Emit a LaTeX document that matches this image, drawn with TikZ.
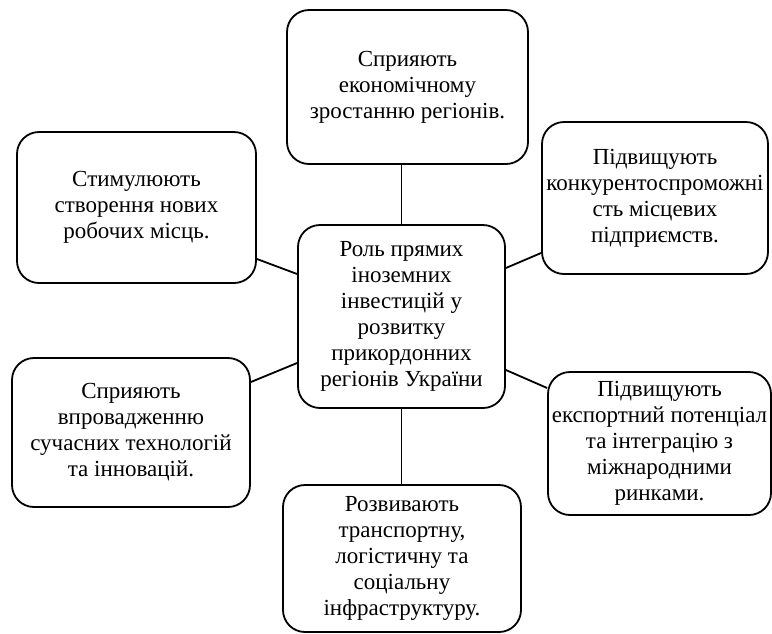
\documentclass[tikz,border=0pt]{standalone}
\usepackage{fontspec}
\setmainfont{Liberation Serif}
\usetikzlibrary{positioning}

\begin{document}
\begin{tikzpicture}[line width=1.8pt,
    box/.style={draw,rounded corners=22pt,align=center,inner sep=0pt,
        font=\fontsize{23}{26}\selectfont},
    link/.style={draw,line width=1.8pt}]

\useasboundingbox (0,0) rectangle (772pt,-633pt);

\node[box,minimum width=207pt,minimum height=183pt] (c) at (401.5pt,-316.5pt)
    {Роль прямих\\іноземних\\інвестицій у\\розвитку\\прикордонних\\регіонів України};
\node[box,minimum width=241pt,minimum height=154pt] (top) at (407.5pt,-87pt)
    {Сприяють\\економічному\\зростанню регіонів.};
\node[box,minimum width=226pt,minimum height=152pt] (rt) at (655pt,-198pt)
    {Підвищують\\конкурентоспроможні\\сть місцевих\\підприємств.};
\node[box,minimum width=223pt,minimum height=143pt] (rb) at (659.5pt,-443.5pt)
    {Підвищують\\експортний потенціал\\та інтеграцію з\\міжнародними\\ринками.};
\node[box,minimum width=238pt,minimum height=147pt] (bot) at (402pt,-558.5pt)
    {Розвивають\\транспортну,\\логістичну та\\соціальну\\інфраструктуру.};
\node[box,minimum width=238pt,minimum height=149pt] (lb) at (131pt,-432.5pt)
    {Сприяють\\впровадженню\\сучасних технологій\\та інновацій.};
\node[box,minimum width=239pt,minimum height=151pt] (lt) at (136.5pt,-207.5pt)
    {Стимулюють\\створення нових\\робочих місць.};

\path[every edge/.style=link]
(c.north) edge (c.north |- top.south)
(c.south) edge (c.south |- bot.north)
([yshift=48.5pt]c.east) edge ([yshift=-55pt]rt.west)
([yshift=-53.5pt]c.east) edge ([yshift=55.5pt]rb.west)
([yshift=42.5pt]c.west) edge ([yshift=-51.5pt]lt.east)
([yshift=-46.5pt]c.west) edge ([yshift=50.5pt]lb.east)
;

\end{tikzpicture}
\end{document}
